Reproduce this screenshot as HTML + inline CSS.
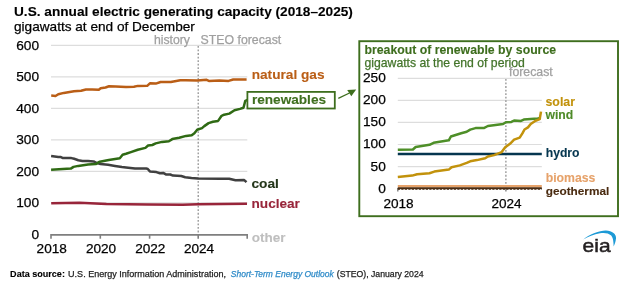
<!DOCTYPE html>
<html><head><meta charset="utf-8"><style>
html,body{margin:0;padding:0;background:#fff;width:634px;height:290px;overflow:hidden}
svg{position:absolute;left:0;top:0;filter:blur(0.3px);font-family:"Liberation Sans",sans-serif}
</style></head><body>
<svg width="634" height="290" viewBox="0 0 634 290">
<line x1="51" y1="45.4" x2="247.3" y2="45.4" stroke="#dddddd" stroke-width="1.2"/>
<line x1="51" y1="76.9" x2="247.3" y2="76.9" stroke="#dddddd" stroke-width="1.2"/>
<line x1="51" y1="108.4" x2="247.3" y2="108.4" stroke="#dddddd" stroke-width="1.2"/>
<line x1="51" y1="139.9" x2="247.3" y2="139.9" stroke="#dddddd" stroke-width="1.2"/>
<line x1="51" y1="171.4" x2="247.3" y2="171.4" stroke="#dddddd" stroke-width="1.2"/>
<line x1="51" y1="202.9" x2="247.3" y2="202.9" stroke="#dddddd" stroke-width="1.2"/>
<line x1="198.2" y1="46" x2="198.2" y2="234" stroke="#8a8a8a" stroke-width="1.2" stroke-dasharray="1.8,1.75"/>
<polyline points="51,238.7 51,234.9 247.2,234.9 247.2,238.7" fill="none" stroke="#7f7f7f" stroke-width="1.6"/>
<line x1="100.3" y1="234.9" x2="100.3" y2="238.7" stroke="#7f7f7f" stroke-width="1.6"/>
<line x1="149.6" y1="234.9" x2="149.6" y2="238.7" stroke="#7f7f7f" stroke-width="1.6"/>
<line x1="198.2" y1="234.9" x2="198.2" y2="238.7" stroke="#7f7f7f" stroke-width="1.6"/>
<polyline points="51.2,203.2 79.5,202.8 106.4,204.0 148.0,204.6 182.7,204.8 198.3,204.2 247.0,203.8" fill="none" stroke="#98253a" stroke-width="2.5" stroke-linejoin="round"/>
<polyline points="51.1,155.9 58.3,156.9 60.4,156.9 62.5,157.9 71.4,158.1 74.2,158.8 78.3,160.2 82.5,160.9 88.0,161.0 93.6,161.4 96.3,162.8 100.5,164.1 108.1,164.8 115.0,165.9 121.9,166.9 126.0,167.4 135.0,168.4 146.1,168.4 147.8,169.0 149.9,171.4 156.4,172.1 159.9,173.3 163.2,172.9 166.3,174.6 170.3,174.5 173.0,175.6 181.3,176.0 185.2,177.2 191.5,178.0 197.9,178.6 219.7,178.7 229.2,178.7 235.5,180.3 244.2,180.1 246.5,182.2" fill="none" stroke="#404040" stroke-width="2.5" stroke-linejoin="round"/>
<polyline points="51.2,95.6 55.5,96.0 58.3,94.2 63.8,92.9 74.0,91.3 81.1,90.7 85.9,89.5 92.2,89.5 98.8,89.8 100.7,88.3 105.5,87.5 109.0,86.3 115.7,86.5 126.0,87.1 133.9,86.7 137.8,85.9 147.2,85.8 149.9,83.3 155.8,83.6 160.6,82.0 170.8,81.9 180.3,80.3 185.8,80.2 197.5,80.4 206.6,79.8 208.9,80.9 219.4,80.4 228.6,80.9 233.2,79.5 246.6,79.5" fill="none" stroke="#ba5e16" stroke-width="2.5" stroke-linejoin="round"/>
<polyline points="51.1,169.7 70.8,168.6 73.5,166.9 78.3,165.9 88.0,164.5 95.7,164.1 99.8,161.7 108.8,160.0 119.8,158.3 122.6,154.8 126.0,153.8 130.9,152.1 137.8,149.7 145.4,147.9 148.1,145.5 152.3,145.0 155.7,143.4 162.0,141.9 168.9,141.2 172.3,139.1 179.2,137.8 186.1,135.9 191.7,135.3 194.4,133.3 197.2,129.8 202.0,128.1 204.3,126.1 208.6,123.1 212.9,121.8 218.1,120.9 221.6,115.8 224.1,114.7 229.3,113.6 234.5,110.3 240.0,108.9 243.5,107.7 245.3,100.8 247.5,100.0" fill="none" stroke="#2f6a14" stroke-width="2.5" stroke-linejoin="round"/>
<rect x="247.4" y="91.9" width="87.4" height="16.6" fill="#fff" stroke="#3e6e1e" stroke-width="1.8"/>
<line x1="338.3" y1="98.4" x2="349.5" y2="93" stroke="#3e6e1e" stroke-width="1.3"/>
<polygon points="347.2,89.9 356.2,89.6 351.3,96.3" fill="#3e6e1e"/>
<rect x="359.3" y="41.2" width="258.7" height="175.0" fill="none" stroke="#3e6e1e" stroke-width="1.9"/>
<line x1="397.8" y1="78.4" x2="541.8" y2="78.4" stroke="#dddddd" stroke-width="1.2"/>
<line x1="397.8" y1="100.4" x2="541.8" y2="100.4" stroke="#dddddd" stroke-width="1.2"/>
<line x1="397.8" y1="122.4" x2="541.8" y2="122.4" stroke="#dddddd" stroke-width="1.2"/>
<line x1="397.8" y1="144.5" x2="541.8" y2="144.5" stroke="#dddddd" stroke-width="1.2"/>
<line x1="397.8" y1="166.7" x2="541.8" y2="166.7" stroke="#dddddd" stroke-width="1.2"/>
<line x1="505.9" y1="79" x2="505.9" y2="188" stroke="#8a8a8a" stroke-width="1.2" stroke-dasharray="1.8,1.75"/>
<polyline points="397.8,191.5 397.8,188.6 541.8,188.6" fill="none" stroke="#7f7f7f" stroke-width="1.4"/>
<line x1="505.9" y1="188.6" x2="505.9" y2="191.5" stroke="#7f7f7f" stroke-width="1.4"/>
<line x1="397.8" y1="186.1" x2="541.8" y2="186.1" stroke="#e6a26a" stroke-width="2.4"/>
<line x1="397.8" y1="188.1" x2="541.8" y2="188.1" stroke="#4a2b10" stroke-width="1.8"/>
<line x1="397.8" y1="189.1" x2="541.8" y2="189.1" stroke="#4a2b10" stroke-width="1.1" stroke-dasharray="2.2,1.3"/>
<line x1="397.8" y1="154" x2="541.8" y2="154" stroke="#05364f" stroke-width="2.5"/>
<polyline points="397.8,149.8 412.9,149.5 415.7,147.0 429.5,144.8 433.6,142.8 448.8,140.3 450.9,136.5 461.2,133.2 466.7,131.8 470.2,129.6 475.5,128.1 483.8,128.1 487.9,126.0 503.1,124.0 505.9,122.3 511.4,121.9 514.1,120.5 521.0,120.9 523.8,119.6 537.6,118.4 541.0,118.0" fill="none" stroke="#4e8f28" stroke-width="2.5" stroke-linejoin="round"/>
<polyline points="397.8,177.0 412.2,175.6 417.1,174.2 429.5,173.3 434.3,171.6 448.8,169.6 451.6,167.3 459.8,165.4 466.7,162.9 470.2,161.3 476.9,160.1 485.2,158.3 487.9,156.5 494.1,155.1 501.7,152.1 505.2,147.2 510.0,143.8 514.1,139.7 519.7,137.6 522.4,133.4 524.5,129.5 528.0,127.4 530.7,124.0 534.8,121.2 539.7,119.1 541.0,111.6" fill="none" stroke="#c2920c" stroke-width="2.5" stroke-linejoin="round"/>
<text transform="translate(14,16.1) scale(1,1.0)" font-size="13.65" fill="#000" stroke="#000" stroke-width="0.12" font-weight="bold" font-style="normal" text-anchor="start">U.S. annual electric generating capacity (2018–2025)</text>
<text transform="translate(14,30.5) scale(1,1.0)" font-size="13.62" fill="#000" stroke="#000" stroke-width="0.25" font-weight="normal" font-style="normal" text-anchor="start">gigawatts at end of December</text>
<text transform="translate(39.0,49.7) scale(1,1.0)" font-size="13.7" fill="#000" stroke="#000" stroke-width="0.25" font-weight="normal" font-style="normal" text-anchor="end">600</text>
<text transform="translate(39.0,81.2) scale(1,1.0)" font-size="13.7" fill="#000" stroke="#000" stroke-width="0.25" font-weight="normal" font-style="normal" text-anchor="end">500</text>
<text transform="translate(39.0,112.7) scale(1,1.0)" font-size="13.7" fill="#000" stroke="#000" stroke-width="0.25" font-weight="normal" font-style="normal" text-anchor="end">400</text>
<text transform="translate(39.0,144.2) scale(1,1.0)" font-size="13.7" fill="#000" stroke="#000" stroke-width="0.25" font-weight="normal" font-style="normal" text-anchor="end">300</text>
<text transform="translate(39.0,175.7) scale(1,1.0)" font-size="13.7" fill="#000" stroke="#000" stroke-width="0.25" font-weight="normal" font-style="normal" text-anchor="end">200</text>
<text transform="translate(39.0,207.2) scale(1,1.0)" font-size="13.7" fill="#000" stroke="#000" stroke-width="0.25" font-weight="normal" font-style="normal" text-anchor="end">100</text>
<text transform="translate(39.0,238.79999999999998) scale(1,1.0)" font-size="13.7" fill="#000" stroke="#000" stroke-width="0.25" font-weight="normal" font-style="normal" text-anchor="end">0</text>
<text transform="translate(51.7,252.89999999999998) scale(1,1.0)" font-size="13.6" fill="#000" stroke="#000" stroke-width="0.25" font-weight="normal" font-style="normal" text-anchor="middle">2018</text>
<text transform="translate(101,252.89999999999998) scale(1,1.0)" font-size="13.6" fill="#000" stroke="#000" stroke-width="0.25" font-weight="normal" font-style="normal" text-anchor="middle">2020</text>
<text transform="translate(150.3,252.89999999999998) scale(1,1.0)" font-size="13.6" fill="#000" stroke="#000" stroke-width="0.25" font-weight="normal" font-style="normal" text-anchor="middle">2022</text>
<text transform="translate(199,252.89999999999998) scale(1,1.0)" font-size="13.6" fill="#000" stroke="#000" stroke-width="0.25" font-weight="normal" font-style="normal" text-anchor="middle">2024</text>
<text transform="translate(153.9,44.300000000000004) scale(1,1.0)" font-size="12.25" fill="#a0a0a0" stroke="#a0a0a0" stroke-width="0.25" font-weight="normal" font-style="normal" text-anchor="start">history</text>
<text transform="translate(200.6,44.300000000000004) scale(1,1.0)" font-size="12.3" fill="#a0a0a0" stroke="#a0a0a0" stroke-width="0.25" font-weight="normal" font-style="normal" text-anchor="start">STEO forecast</text>
<text transform="translate(251.7,78.8) scale(1,1.0)" font-size="13.65" fill="#ba5e16" stroke="#ba5e16" stroke-width="0.12" font-weight="bold" font-style="normal" text-anchor="start">natural gas</text>
<text transform="translate(251.9,104.10000000000001) scale(1,1.0)" font-size="13.62" fill="#3f6f1f" stroke="#3f6f1f" stroke-width="0.12" font-weight="bold" font-style="normal" text-anchor="start">renewables</text>
<text transform="translate(251.5,188.29999999999998) scale(1,1.0)" font-size="13.7" fill="#24361a" stroke="#24361a" stroke-width="0.12" font-weight="bold" font-style="normal" text-anchor="start">coal</text>
<text transform="translate(251.5,208.2) scale(1,1.0)" font-size="13.62" fill="#98253a" stroke="#98253a" stroke-width="0.12" font-weight="bold" font-style="normal" text-anchor="start">nuclear</text>
<text transform="translate(251.7,242.1) scale(1,1.0)" font-size="13.5" fill="#bfbfbf" stroke="#bfbfbf" stroke-width="0.12" font-weight="bold" font-style="normal" text-anchor="start">other</text>
<text transform="translate(364.5,54.300000000000004) scale(1,1.0)" font-size="12.27" fill="#3e6e1e" stroke="#3e6e1e" stroke-width="0.12" font-weight="bold" font-style="normal" text-anchor="start">breakout of renewable by source</text>
<text transform="translate(364.5,66.5) scale(1,1.0)" font-size="12.22" fill="#43742a" stroke="#43742a" stroke-width="0.25" font-weight="normal" font-style="normal" text-anchor="start">gigawatts at the end of period</text>
<text transform="translate(509,76.10000000000001) scale(1,1.0)" font-size="12.29" fill="#a0a0a0" stroke="#a0a0a0" stroke-width="0.25" font-weight="normal" font-style="normal" text-anchor="start">forecast</text>
<text transform="translate(385.8,82.30000000000001) scale(1,1.0)" font-size="13.7" fill="#000" stroke="#000" stroke-width="0.25" font-weight="normal" font-style="normal" text-anchor="end">250</text>
<text transform="translate(385.8,104.30000000000001) scale(1,1.0)" font-size="13.7" fill="#000" stroke="#000" stroke-width="0.25" font-weight="normal" font-style="normal" text-anchor="end">200</text>
<text transform="translate(385.8,126.30000000000001) scale(1,1.0)" font-size="13.7" fill="#000" stroke="#000" stroke-width="0.25" font-weight="normal" font-style="normal" text-anchor="end">150</text>
<text transform="translate(385.8,148.39999999999998) scale(1,1.0)" font-size="13.7" fill="#000" stroke="#000" stroke-width="0.25" font-weight="normal" font-style="normal" text-anchor="end">100</text>
<text transform="translate(385.8,170.59999999999997) scale(1,1.0)" font-size="13.7" fill="#000" stroke="#000" stroke-width="0.25" font-weight="normal" font-style="normal" text-anchor="end">50</text>
<text transform="translate(385.8,192.49999999999997) scale(1,1.0)" font-size="13.7" fill="#000" stroke="#000" stroke-width="0.25" font-weight="normal" font-style="normal" text-anchor="end">0</text>
<text transform="translate(398.5,207.6) scale(1,1.0)" font-size="13.6" fill="#000" stroke="#000" stroke-width="0.25" font-weight="normal" font-style="normal" text-anchor="middle">2018</text>
<text transform="translate(506.4,207.6) scale(1,1.0)" font-size="13.5" fill="#000" stroke="#000" stroke-width="0.25" font-weight="normal" font-style="normal" text-anchor="middle">2024</text>
<text transform="translate(545.5,106.4) scale(1,1.0)" font-size="12.35" fill="#c2920c" stroke="#c2920c" stroke-width="0.12" font-weight="bold" font-style="normal" text-anchor="start">solar</text>
<text transform="translate(545.5,118.8) scale(1,1.0)" font-size="12.2" fill="#4e8a28" stroke="#4e8a28" stroke-width="0.12" font-weight="bold" font-style="normal" text-anchor="start">wind</text>
<text transform="translate(545.7,156.79999999999998) scale(1,1.0)" font-size="12.2" fill="#05364f" stroke="#05364f" stroke-width="0.12" font-weight="bold" font-style="normal" text-anchor="start">hydro</text>
<text transform="translate(545.7,182.0) scale(1,1.0)" font-size="12.25" fill="#e6a26a" stroke="#e6a26a" stroke-width="0.12" font-weight="bold" font-style="normal" text-anchor="start">biomass</text>
<text transform="translate(545.7,194.79999999999998) scale(1,1.0)" font-size="11.8" fill="#4a2b10" stroke="#4a2b10" stroke-width="0.12" font-weight="bold" font-style="normal" text-anchor="start">geothermal</text>
<text transform="translate(10.1,277.09999999999997) scale(1,1)" font-size="9.06" fill="#000" stroke="#000" stroke-width="0.12" font-weight="bold" font-style="normal" text-anchor="start">Data source:</text>
<text transform="translate(68.1,277.09999999999997) scale(1,1)" font-size="9.02" fill="#222" stroke="#222" stroke-width="0.25" font-weight="normal" font-style="normal" text-anchor="start">U.S. Energy Information Administration,</text>
<text transform="translate(230.8,277.09999999999997) scale(1,1)" font-size="8.49" fill="#2f8bc8" stroke="#2f8bc8" stroke-width="0.25" font-weight="normal" font-style="italic" text-anchor="start">Short-Term Energy Outlook</text>
<text transform="translate(336.8,277.09999999999997) scale(1,1)" font-size="8.69" fill="#222" stroke="#222" stroke-width="0.25" font-weight="normal" font-style="normal" text-anchor="start">(STEO), January 2024</text>
<path d="M583.2,239.5 C590,234 600,230.3 606,230.5 C612,230.8 616.6,234 616,238.6 C615.6,242 614.6,244.5 613.7,246.4 C613.4,243 613.6,238.5 611.2,235.6 C608.5,232.8 604,232.5 600,233.2 C594,234.2 588,236.8 583.2,239.5 Z" fill="#1d9ad6"/>
<text transform="translate(582.6,252.1) scale(1,1)" font-size="19" fill="#231f20" stroke="#231f20" stroke-width="0.5" font-weight="normal" font-style="normal" text-anchor="start" textLength="28" lengthAdjust="spacingAndGlyphs">eia</text>
</svg>
</body></html>
